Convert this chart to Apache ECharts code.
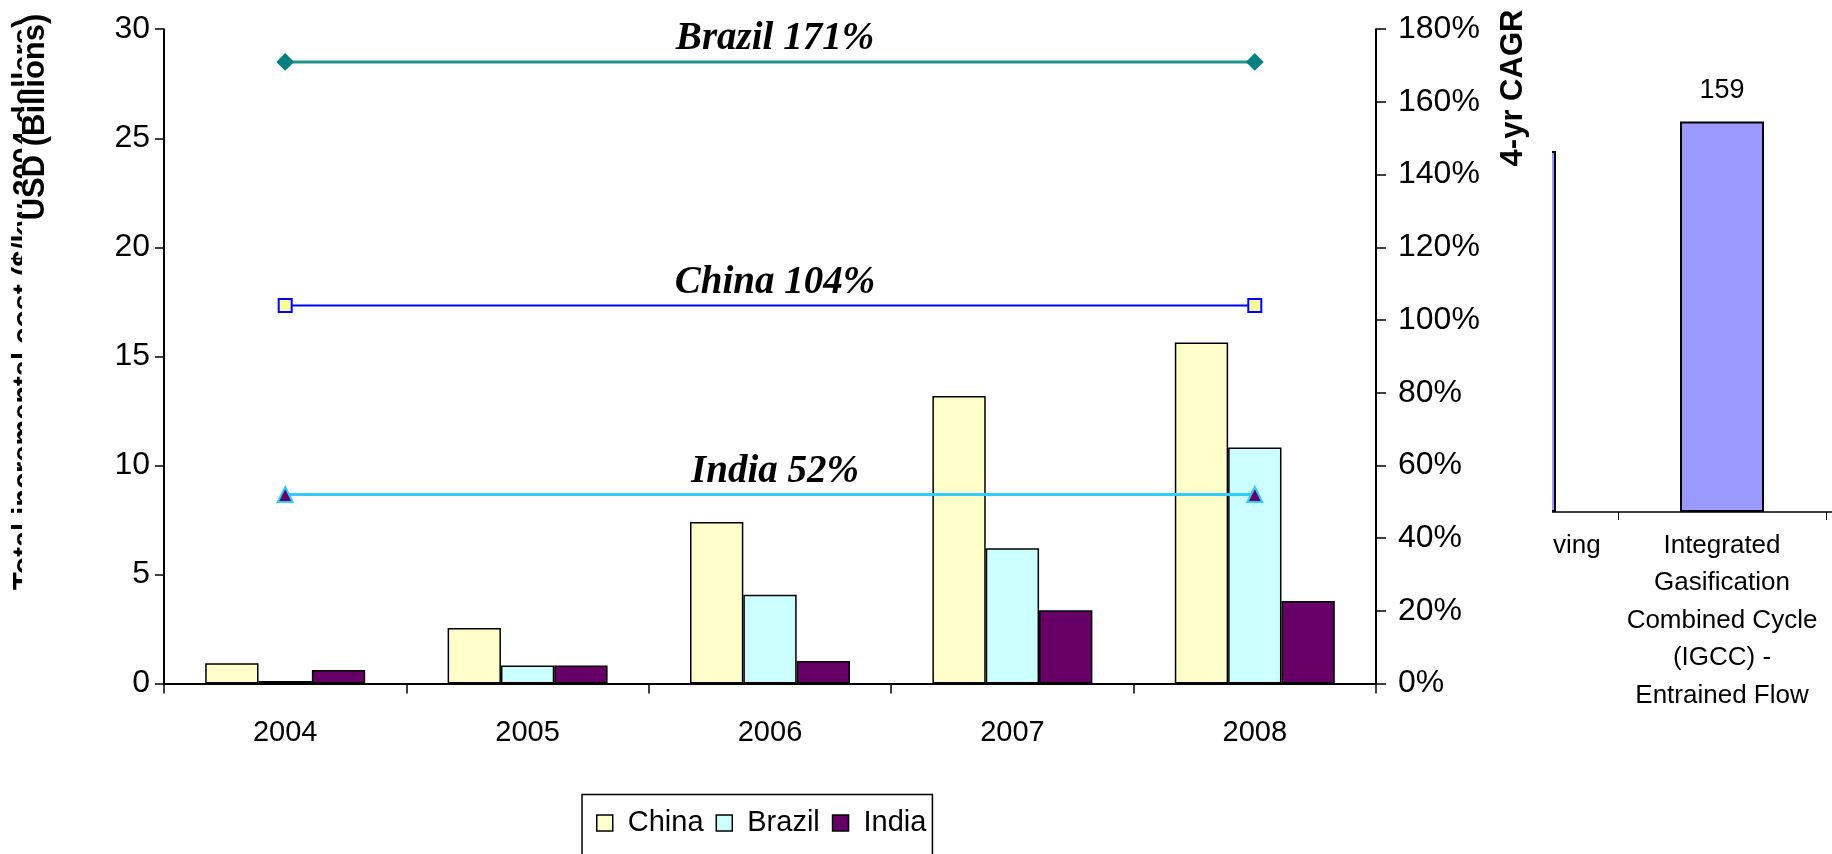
<!DOCTYPE html>
<html>
<head>
<meta charset="utf-8">
<script src="https://cdn.jsdelivr.net/npm/echarts@6/dist/echarts.min.js"></script>
<style>
  html, body { margin: 0; padding: 0; background: #fff; }
  #main { position: absolute; left: 0; top: 0; width: 1832px; height: 854px; }
  #clip { position: absolute; left: 1552px; top: 0; width: 280px; height: 854px; overflow: hidden; }
  #side { position: absolute; left: -142px; top: 0; width: 700px; height: 854px; }
</style>
</head>
<body>
<div id="main"></div>
<div id="clip"><div id="side"></div></div>
<script>
// ---- main chart data ----
const years = ['2004', '2005', '2006', '2007', '2008'];
const china = [0.93, 2.55, 7.41, 13.18, 15.64];
const brazil = [0.11, 0.82, 4.07, 6.2, 10.82];
const india = [0.62, 0.82, 1.03, 3.36, 3.78];
const cagrNames = ['Brazil', 'China', 'India'];
const cagrValues = [171, 104, 52];

// ---- side chart (fragment) data ----
const techCategories = ['Dry Ash Moving\nBed', 'Integrated\nGasification\nCombined Cycle\n(IGCC) -\nEntrained Flow', ''];
const techCost = [147, 159, '-'];

const SANS = '"Liberation Sans", Arial, sans-serif';
const SERIF = '"Liberation Serif", "Times New Roman", serif';

const barColors = { China: '#FFFFCC', Brazil: '#CCFFFF', India: '#660066' };
const lineStyles = {
  Brazil: { line: '#1f9490', symbol: 'diamond', fill: '#008080', border: '#008080', size: 15, width: 3 },
  China:  { line: '#0000FF', symbol: 'rect', fill: '#FFFF99', border: '#0000FF', size: 13, width: 2 },
  India:  { line: '#33CCFF', symbol: 'triangle', fill: '#660066', border: '#33CCFF', size: 15, width: 3 }
};

function barSeries(name, data) {
  return {
    name: name, type: 'bar', data: data, yAxisIndex: 0,
    barGap: '0%', barCategoryGap: '34%',
    itemStyle: { color: barColors[name], borderColor: '#000', borderWidth: 1.5 }
  };
}

function cagrSeries(name, v) {
  const s = lineStyles[name];
  return {
    name: name + ' CAGR', type: 'line', yAxisIndex: 1,
    data: [v, '-', '-', '-', v], connectNulls: true,
    symbol: s.symbol, symbolSize: s.size, showAllSymbol: true,
    lineStyle: { color: s.line, width: s.width },
    itemStyle: { color: s.fill, borderColor: s.border, borderWidth: 2 },
    z: 5,
    markPoint: {
      silent: true, symbol: 'circle', symbolSize: 1,
      itemStyle: { color: 'rgba(0,0,0,0)' },
      data: [{ coord: [years[2], v] }],
      label: {
        show: true, position: 'top', distance: 3, offset: [5, 0],
        formatter: name + ' ' + v + '%',
        fontFamily: SERIF, fontWeight: 'bold', fontStyle: 'italic', fontSize: 39, color: '#000'
      }
    }
  };
}

const main = echarts.init(document.getElementById('main'), null, { renderer: 'canvas' });
main.setOption({
  animation: false,
  backgroundColor: '#fff',
  textStyle: { fontFamily: SANS },
  grid: { left: 164, top: 29.2, right: 456, bottom: 170.5, containLabel: false },
  legend: {
    data: ['China', 'Brazil', 'India'],
    left: 582, top: 794.5, orient: 'horizontal',
    icon: 'rect', itemWidth: 16, itemHeight: 16, itemGap: 12,
    padding: [14, 6, 40, 14],
    borderColor: '#000', borderWidth: 1.5,
    itemStyle: { borderColor: '#000', borderWidth: 1.5 },
    textStyle: { fontFamily: SANS, fontSize: 29, color: '#000', padding: [0, 0, 0, 10] }
  },
  xAxis: {
    type: 'category', data: years,
    axisLine: { show: true, lineStyle: { color: '#000', width: 2 } },
    axisTick: { show: true, length: 10, lineStyle: { color: '#000', width: 1.5 } },
    axisLabel: { fontFamily: SANS, fontSize: 29, color: '#000', margin: 35 },
    splitLine: { show: false }
  },
  yAxis: [
    {
      type: 'value', min: 0, max: 30, interval: 5, position: 'left',
      axisLine: { show: true, lineStyle: { color: '#000', width: 2 } },
      axisTick: { show: true, length: 9, lineStyle: { color: '#000', width: 1.5 } },
      axisLabel: { fontFamily: SANS, fontSize: 32, color: '#000', margin: 14 },
      splitLine: { show: false }
    },
    {
      type: 'value', min: 0, max: 180, interval: 20, position: 'right',
      axisLine: { show: true, lineStyle: { color: '#000', width: 2 } },
      axisTick: { show: true, length: 10, lineStyle: { color: '#000', width: 1.5 } },
      axisLabel: { fontFamily: SANS, fontSize: 32, color: '#000', margin: 22, formatter: '{value}%' },
      splitLine: { show: false }
    }
  ],
  graphic: [
    {
      type: 'text', x: 10, y: 590, rotation: Math.PI / 2, z: 1,
      style: { text: 'Total incremental cost ($/kw 2004 dollars)', font: 'bold 29px ' + SANS, fill: '#000', align: 'left', verticalAlign: 'top' }
    },
    { type: 'rect', shape: { x: 22, y: 0, width: 60, height: 640 }, style: { fill: '#fff' }, z: 2 },
    {
      type: 'text', x: 35, y: 117, rotation: Math.PI / 2, z: 3,
      style: { text: 'USD (Billions)', font: 'bold 31px ' + SANS, fill: '#000', align: 'center', verticalAlign: 'middle' }
    },
    {
      type: 'text', x: 1513, y: 88, rotation: Math.PI / 2, z: 3,
      style: { text: '4-yr CAGR', font: 'bold 31px ' + SANS, fill: '#000', align: 'center', verticalAlign: 'middle' }
    }
  ],
  series: [
    barSeries('China', china),
    barSeries('Brazil', brazil),
    barSeries('India', india),
    cagrSeries(cagrNames[0], cagrValues[0]),
    cagrSeries(cagrNames[1], cagrValues[1]),
    cagrSeries(cagrNames[2], cagrValues[2])
  ]
});

// first category label nudged left so its clipped tail lines up with the reference
const sideCategoryData = techCategories.map(function (c, i) {
  return i === 0 ? { value: c, textStyle: { padding: [0, 10, 0, 0] } } : c;
});

const side = echarts.init(document.getElementById('side'), null, { renderer: 'canvas' });
side.setOption({
  animation: false,
  textStyle: { fontFamily: SANS },
  grid: { left: 0, top: 20.8, width: 624, height: 491.2, containLabel: false },
  xAxis: {
    type: 'category', data: sideCategoryData,
    axisLine: { show: true, lineStyle: { color: '#000', width: 1.5 } },
    axisTick: { show: true, length: 8, lineStyle: { color: '#000', width: 1 } },
    axisLabel: { interval: 0, fontFamily: SANS, fontSize: 26, lineHeight: 37.5, color: '#000', margin: 15 }
  },
  yAxis: { type: 'value', min: 0, max: 200, show: false },
  series: [{
    type: 'bar', data: techCost, barWidth: 84,
    itemStyle: { color: '#9999FF', borderColor: '#000', borderWidth: 2 },
    label: { show: true, position: 'top', distance: 17, fontFamily: SANS, fontSize: 27, color: '#000' }
  }]
});
</script>
</body>
</html>
